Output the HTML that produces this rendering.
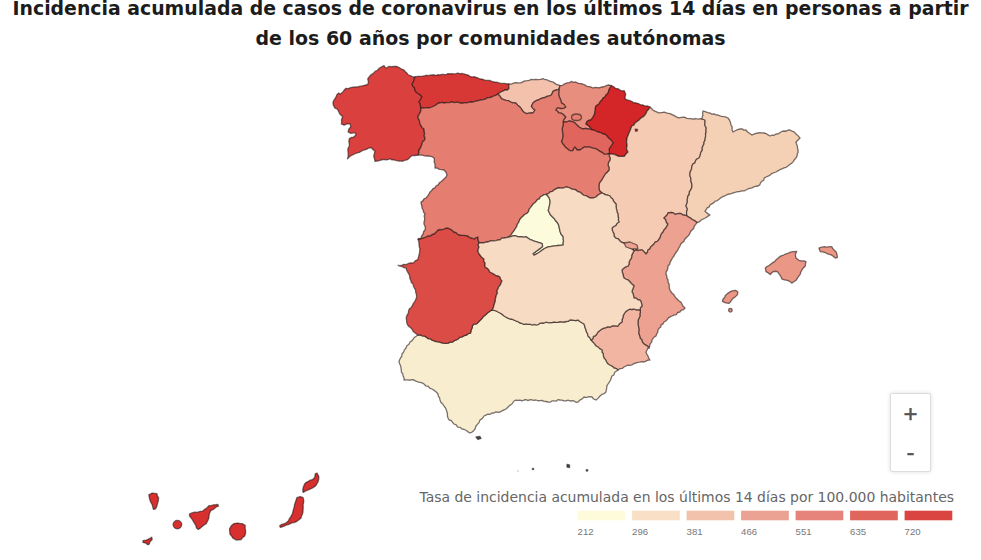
<!DOCTYPE html>
<html><head><meta charset="utf-8">
<style>
html,body{margin:0;padding:0;background:#fff;width:981px;height:560px;overflow:hidden}
svg{position:absolute;left:0;top:0}
.t{font-family:"DejaVu Sans",sans-serif;font-weight:bold;font-size:19px;fill:#1c1c1c}
.leg{font-family:"DejaVu Sans",sans-serif;font-size:14px;fill:#666}
.lab{font-family:"Liberation Sans",Arial,sans-serif;font-size:9.6px;fill:#777}
.zc{position:absolute;left:890px;top:393px;width:39px;height:77px;border:1px solid #ddd;border-radius:2px;background:#fff;box-shadow:0 0 4px rgba(0,0,0,0.13)}
.zc span{position:absolute;left:0;width:100%;text-align:center;font-family:"Liberation Sans",Arial,sans-serif;color:#555}
</style></head><body>
<svg width="981" height="560" viewBox="0 0 981 560">
<text class="t" x="12.5" y="15" textLength="956" lengthAdjust="spacingAndGlyphs" id="t1">Incidencia acumulada de casos de coronavirus en los últimos 14 días en personas a partir</text>
<text class="t" x="255.5" y="44.6" textLength="470" lengthAdjust="spacingAndGlyphs" id="t2">de los 60 años por comunidades autónomas</text>
<g stroke="rgba(35,22,20,0.6)" stroke-width="1.3" stroke-linejoin="round">
<path fill="#d9403e" d="M415,77 L414.21,79.42 L413.42,81.85 L412,84 L412.82,86.09 L414.5,87.75 L414.96,90.02 L416,92 L418.11,93.53 L420.37,94.89 L422,97 L420.49,99.5 L419,102 L420.24,103.81 L420.42,105.97 L421,108 L420.94,110.16 L420.31,112.15 L419.29,114.03 L418.19,115.88 L418,118 L419.13,119.85 L419.67,121.89 L420,124 L421.2,125.77 L422.21,127.7 L424,129 L424.15,131.26 L424.63,133.49 L424.13,135.82 L425,138 L424.53,140.26 L422.58,141.79 L422,144 L421.24,146.12 L420.41,148.21 L419,150 L418.99,152.6 L418,155 L415.27,155.5 L412.5,155.5 L410.36,156.81 L408.75,158.75 L406.82,159.97 L404.54,160.32 L402.5,161.25 L400.44,160.85 L398.32,160.98 L396.25,160.6 L394.18,159.92 L391.92,159.91 L390,158.75 L387.89,159.63 L385.68,159.75 L383.4,159.46 L381.25,160 L379.19,160.51 L377.13,161.07 L375,161.25 L374.48,158.72 L373.75,156.25 L374.32,153.74 L375,151.25 L372.94,149.56 L371.25,147.5 L368.61,148.09 L366.25,149.4 L363.66,150.08 L361.25,151.25 L359.29,152.39 L357.05,152.83 L355,153.75 L352.49,154.97 L350,156.25 L347.5,158.75 L348.19,156.71 L348.2,154.61 L348.1,152.5 L347.82,150.25 L348.1,148 L349.34,146.19 L349.4,144 L348.8,141.3 L349.4,138.6 L351.3,137.48 L353.5,137.3 L356.2,134.6 L354.8,132.6 L352.82,133.05 L350.8,133.3 L348.1,131.9 L348.8,129.2 L350.8,126.6 L350.1,123.9 L346.8,123.9 L344.1,125.2 L341.4,123.9 L341.73,121.9 L341.4,119.9 L342.7,116.5 L340.1,114.5 L338.7,111.8 L337.4,109.1 L334.7,107.8 L333.4,105.1 L332.95,103.1 L333.4,101.1 L334.69,99.09 L336,97.1 L336.85,94.72 L338.7,93 L340,94.3 L341.58,93 L343.1,91.64 L344.34,90.02 L345.7,88.5 L348.23,88.58 L350.6,87.7 L353.42,87.06 L356.3,86.9 L358.4,86.75 L360.42,86.22 L362.47,85.8 L364.5,85.3 L367.7,84.5 L368.5,82 L367.7,78.8 L369.31,76.71 L371,74.7 L373.33,73.39 L375.1,71.4 L377.51,70.26 L379.2,68.2 L381.58,66.92 L384,65.7 L385.7,68.2 L388.9,66.5 L391.35,66.71 L393.8,66.5 L396.34,66.34 L398.7,67.3 L401.03,68.78 L403.6,69.8 L405.12,71.54 L406.9,73 L408.11,74.76 L410.1,75.5 L412.43,76.65 L415,77Z"/>
<path fill="#d83835" d="M415,77 L417.22,76.47 L419.48,76.35 L421.77,76.47 L424,76 L425.96,75.26 L428,75.7 L429.97,75.19 L431.97,75 L433.96,74.8 L436.02,75.6 L437.97,74.64 L440,75 L441.96,74.45 L443.98,74.41 L446.05,74.81 L447.94,73.57 L449.99,73.82 L452.01,73.73 L454.06,73.94 L456.05,73.63 L458,73 L459.92,73.8 L462.05,73.38 L464,74 L466.03,74.52 L468.05,75.07 L469.85,76.35 L471.82,77.07 L474.14,76.69 L476.13,77.35 L478.1,78.04 L480,79 L482.07,79.09 L484,79.84 L485.98,80.4 L488.06,80.41 L490.14,80.51 L492.02,81.47 L494,82 L496.17,82.12 L498.27,82.66 L500.35,83.44 L502.54,83.39 L504.71,83.45 L506.84,83.87 L509,84 L508.77,86.3 L509,88.6 L507.42,90.02 L505.1,89.93 L503.34,90.97 L501.45,91.76 L499.66,92.75 L498,94 L496.06,95.13 L494,96 L492.04,96.7 L490.14,97.64 L487.95,97.55 L486.16,98.83 L484.15,99.4 L482.1,99.79 L480,100 L478.09,100.83 L476.04,101 L474.11,101.77 L472.13,102.24 L470,102 L468.05,102.65 L466.05,102.92 L464.02,102.78 L462.06,103.41 L460,103 L458.06,102.27 L456.02,102.35 L453.94,102.7 L452,102 L450.03,102.49 L448.02,102.53 L446.01,102.68 L444.04,103.16 L441.96,102.38 L440,103 L437.71,103.43 L436.02,105.04 L434.01,106.02 L432,107 L429.85,107.74 L427.65,107.92 L425.42,107.8 L423.23,108.1 L421,108 L420.42,105.97 L420.24,103.81 L419,102 L420.49,99.5 L422,97 L420.37,94.89 L418.11,93.53 L416,92 L414.96,90.02 L414.5,87.75 L412.82,86.09 L412,84 L413.42,81.85 L414.21,79.42 L415,77Z"/>
<path fill="#f3c1ac" d="M509,84 L511.45,84.15 L513.75,83.01 L516.13,82.56 L518.6,82.9 L520.85,82.92 L522.81,81.84 L524.78,80.81 L527,80.7 L529.18,80.41 L531.25,79.39 L533.53,79.69 L535.7,79.3 L538.16,79.69 L540.55,79.3 L542.9,78.6 L544.71,79.54 L546.81,79.71 L548.6,80.7 L550.56,81.27 L552.56,81.76 L554.3,82.9 L556.04,84.15 L558.08,84.8 L560,85.7 L559,89 L557,90 L554.88,90.36 L553,91.4 L551.4,95 L549.27,95.91 L547,96.4 L545.13,97.49 L543,97.9 L540.63,98.58 L538.6,100 L536.44,100.44 L534.65,101.6 L533,103 L531.4,106.4 L532.92,108.48 L535,110 L533,113 L530.96,112.79 L528.97,113.09 L527,113.6 L524.83,112.81 L523,111.4 L521.52,109.19 L520,107 L517.72,105.14 L515.7,103 L513.14,102.82 L510.78,102.05 L508.6,100.7 L506.12,100.28 L503.71,99.6 L501.4,98.6 L499.9,96.15 L498,94 L499.66,92.75 L501.45,91.76 L503.34,90.97 L505.1,89.93 L507.42,90.02 L509,88.6 L508.77,86.3 L509,84Z"/>
<path fill="#e88e7f" d="M560,85.7 L562.55,85.32 L564.64,83.77 L567,82.9 L569.38,82.69 L571.4,81.4 L573.46,82.33 L575.7,82 L578.39,83.37 L581.4,83.6 L583.35,84.38 L585.3,85.14 L587,86.4 L589.09,86.59 L591.1,87.09 L593,88 L595.05,87.37 L597.22,87.66 L599.36,87.77 L601.4,87 L603.92,86.76 L606.19,85.64 L608.6,85 L611.4,85.7 L610.29,87.51 L609.18,89.33 L608.6,91.4 L607.85,93.56 L606.02,95.02 L605,97 L603.12,98.12 L602,100 L600.21,101.78 L599,104 L596,106 L595.35,107.95 L595.36,110 L595,112 L594.39,114.66 L593,117 L591,120 L588.87,120.4 L587,121.5 L586,124 L589,126 L590.67,127.87 L592,130 L590.09,129.12 L588,129 L585.5,128.39 L583,129 L580.94,128.12 L579,127 L576.91,125.09 L575,123 L573.18,121.78 L571.09,121.39 L569,121 L567.07,121.76 L565.08,122.14 L563,122 L563.95,119.28 L565.7,117 L562.9,114.3 L560.91,113.1 L558.6,112.9 L557.43,111.17 L555.7,110 L557.1,107.9 L559.32,107.8 L561.4,108.6 L563.7,108.2 L565.7,107 L563.98,104.5 L561.4,102.9 L560.89,100.69 L560,98.6 L559.12,96.51 L558.6,94.3 L558.86,91.65 L559,89 L560,85.7Z"/>
<path fill="#d42528" d="M611.4,85.7 L613.82,86.75 L615.7,88.6 L618.05,88.7 L620,90 L622.05,90.95 L624.3,90.7 L625.7,94.3 L625.16,96.42 L625,98.6 L627,100 L630,100.7 L631.99,101.5 L633.8,102.76 L636,103 L638.36,103.58 L640.53,104.8 L643,105 L645.22,106.07 L647.77,105.97 L650,107 L648.76,109.19 L647,111 L646.24,113.12 L645,115 L643.54,116.6 L641.6,117.58 L640,119 L638.53,120.58 L636.73,121.75 L635,123 L634.04,124.97 L631.92,126 L631,128 L630.18,130.57 L629,133 L628.05,135.52 L627,138 L626.89,140 L626.47,142 L627,144 L627.1,146 L626.46,148 L627,150 L628,152 L625.7,154.3 L624.3,156.4 L621.45,156.4 L618.6,156.4 L616.47,155.31 L614.3,154.3 L611.65,154.12 L609,154 L609.43,151.5 L609,149 L611,146 L613,143 L611,140 L608.72,138.28 L607,136 L605.29,134.42 L603,134 L600.65,132.62 L598,132 L596.02,131.26 L594.2,130.07 L592,130 L590.67,127.87 L589,126 L586,124 L587,121.5 L588.87,120.4 L591,120 L593,117 L594.39,114.66 L595,112 L595.36,110 L595.35,107.95 L596,106 L599,104 L600.21,101.78 L602,100 L603.12,98.12 L605,97 L606.02,95.02 L607.85,93.56 L608.6,91.4 L609.18,89.33 L610.29,87.51 L611.4,85.7Z"/>
<path fill="#e0655c" d="M563,122 L565.08,122.14 L567.07,121.76 L569,121 L571.09,121.39 L573.18,121.78 L575,123 L576.91,125.09 L579,127 L580.94,128.12 L583,129 L585.5,128.39 L588,129 L590.09,129.12 L592,130 L594.2,130.07 L596.02,131.26 L598,132 L600.65,132.62 L603,134 L605.29,134.42 L607,136 L608.72,138.28 L611,140 L613,143 L611,146 L609,149 L609.43,151.5 L609,154 L606.65,154.18 L604.3,154.3 L602.31,152.61 L600,151.4 L597.89,149.94 L595.7,148.6 L592.79,148.07 L590,147.1 L587.15,147.08 L584.3,147.1 L582.11,148.49 L580,150 L577.1,150 L575,147.1 L573.63,148.71 L572.9,150.7 L570.67,150.86 L568.6,150 L567.22,148.51 L565.5,147.36 L564.3,145.7 L562.61,143.71 L561.4,141.4 L562.49,138.64 L562.9,135.7 L562.64,133.33 L562.45,130.96 L562.1,128.6 L562.73,126.45 L563.23,124.27 L563,122Z"/>
<path fill="#f5cbb3" d="M650,107 L651.5,108.45 L652.9,110 L654.73,111.1 L656.7,111.94 L658.6,112.9 L661.45,112.52 L664.3,112.1 L667.09,113.09 L670,113.6 L672.18,114.59 L674.3,115.7 L676.43,116.84 L678.6,117.9 L681.45,117.47 L684.3,117.1 L687,118.41 L690,118.6 L692,118.83 L694.01,119.02 L696,118.5 L697.95,119.24 L700.03,118.52 L702,119 L705,120 L705.12,122.01 L704.83,124.06 L705.16,126.04 L706.27,127.95 L706,130 L706.2,132.07 L705.5,134.01 L705.69,136.08 L705.19,138.05 L705.12,140.08 L704.07,141.97 L704,144 L702.98,145.88 L702.18,147.84 L702.43,150.14 L701.07,151.91 L700.47,153.93 L700,156 L699.03,157.96 L696.94,159.02 L695.53,160.62 L694.95,162.89 L692.87,163.97 L692,166 L691.73,168.03 L691.22,170 L690.18,171.88 L689.98,173.92 L690,176 L690.83,177.91 L690.89,179.98 L691.18,182 L691.81,183.96 L692,186 L691.57,188.15 L690.62,190.09 L689.33,191.89 L689.38,194.23 L688,196 L687.53,197.99 L687.28,200.02 L687.41,202.12 L686.61,204.04 L686,206 L687.5,209 L686.84,210.96 L686.5,213 L687,216 L685.09,215.24 L682.96,215.03 L681.25,213.75 L679.1,213.34 L677.04,213.81 L675,214.4 L673.4,212.9 L671.25,212.5 L668,213 L667.07,214.99 L665.57,216.52 L664,218 L665.83,219.67 L666.36,222.2 L668,224 L666.91,226.17 L665.73,228.27 L664,230 L663.09,232.05 L661.52,233.76 L660.63,235.81 L660,238 L658.72,239.72 L657.32,241.32 L655.11,242.11 L654,244 L652.44,245.44 L650.82,246.82 L649.88,248.88 L648,250 L647.51,252.26 L646,254 L644.17,251.83 L642,250 L640,250.1 L638,250.56 L636,250 L634,251 L632.34,249.04 L630,248 L628.11,246.2 L626.25,244.37 L624,243 L621.76,242.48 L620,241 L618.3,238.98 L615.64,238.1 L614,236 L613.96,233.89 L612.94,232.01 L612.3,230.05 L612,228 L613.79,226.55 L615.86,225.42 L617.05,223.27 L619,222 L618.27,220.06 L618.53,218 L617.91,216.04 L618,214 L617.1,212.1 L616.77,210.09 L616.23,208.11 L616.02,206.08 L616,204 L614.6,202.55 L613.4,200.95 L612.67,199 L610.98,197.76 L610,196 L608,195.25 L605.85,194.89 L603.93,193.94 L602,193 L600,191.38 L599,189 L599.01,186.62 L599.04,184.24 L600,182 L601.59,180.17 L602.72,178.04 L604,176 L605.36,173.74 L607.31,171.98 L609,170 L609.05,167.39 L608,165 L608.52,162.31 L610,160 L610.08,157.93 L609.25,156.01 L609,154 L611.65,154.12 L614.3,154.3 L616.47,155.31 L618.6,156.4 L621.45,156.4 L624.3,156.4 L625.7,154.3 L628,152 L627,150 L626.46,148 L627.1,146 L627,144 L626.47,142 L626.89,140 L627,138 L628.05,135.52 L629,133 L630.18,130.57 L631,128 L631.92,126 L634.04,124.97 L635,123 L636.73,121.75 L638.53,120.58 L640,119 L641.6,117.58 L643.54,116.6 L645,115 L646.24,113.12 L647,111 L648.76,109.19 L650,107Z"/>
<path fill="#f4d0b5" d="M702,119 L702.24,117 L702.93,115.05 L702.61,112.98 L703,111 L705.33,111.68 L707.6,112.57 L710,113 L711.85,114.11 L714.05,113.8 L715.9,114.92 L718,115 L719.92,115.86 L721.95,116.37 L724.04,116.68 L726.06,117.21 L728,118 L729.53,120.11 L730.44,122.48 L731,125 L732.2,127.18 L732.03,129.75 L733,132 L735.21,130.71 L737.49,129.6 L740,129 L742.09,128.8 L743.93,130.1 L746,130 L747.69,132.04 L749.86,133.5 L752,135 L753.91,134.06 L755.89,133.35 L758,133 L760,132.73 L762,132.95 L764,133 L766.2,133.6 L768.03,134.94 L770,136 L771.9,135.04 L774.19,135.24 L776,134 L778.22,133.83 L780.02,132.56 L781.88,131.44 L784,131 L786.1,131.26 L787.96,130.09 L790,130 L792.1,131.18 L794.36,132.13 L796,134 L798.11,135.89 L800,138 L798.02,140.02 L796,142 L796.5,144 L797.38,145.91 L797.49,148 L798,150 L798.12,152.16 L797.3,154.07 L797.02,156.13 L796,158 L794.49,159.69 L793.22,161.62 L791.64,163.24 L789.78,164.58 L788,166 L786.16,167.31 L783.95,167.9 L781.98,168.97 L779.85,169.71 L777.91,170.82 L776,172 L773.87,172.75 L771.78,173.56 L770.06,175.13 L768.1,176.2 L766,177 L764.2,178.08 L763.67,180.3 L761.78,181.31 L760.53,182.88 L759.78,184.89 L758,186 L755.86,186.25 L753.84,186.85 L751.95,187.84 L749.9,188.38 L747.87,188.95 L746,190 L744.11,190.95 L741.99,190.97 L740,191.49 L737.89,191.58 L735.9,192.12 L733.9,192.59 L731.97,193.39 L730,194 L727.62,194.4 L725.54,195.53 L723.34,196.39 L721.25,197.5 L719.35,199.05 L717.4,200.52 L715,201.25 L713.62,202.88 L711.78,203.89 L710,205 L709.15,206.88 L707.16,207.85 L706.19,209.64 L705,211.25 L706.57,212.63 L708.23,213.88 L710,215 L707.99,216.05 L706.25,217.5 L703.76,218.76 L701.25,220 L699.45,221.81 L697,222.5 L694.7,220.67 L692,219.5 L690.52,218.07 L688.67,217.16 L687,216 L686.5,213 L686.84,210.96 L687.5,209 L686,206 L686.61,204.04 L687.41,202.12 L687.28,200.02 L687.53,197.99 L688,196 L689.38,194.23 L689.33,191.89 L690.62,190.09 L691.57,188.15 L692,186 L691.81,183.96 L691.18,182 L690.89,179.98 L690.83,177.91 L690,176 L689.98,173.92 L690.18,171.88 L691.22,170 L691.73,168.03 L692,166 L692.87,163.97 L694.95,162.89 L695.53,160.62 L696.94,159.02 L699.03,157.96 L700,156 L700.47,153.93 L701.07,151.91 L702.43,150.14 L702.18,147.84 L702.98,145.88 L704,144 L704.07,141.97 L705.12,140.08 L705.19,138.05 L705.69,136.08 L705.5,134.01 L706.2,132.07 L706,130 L706.27,127.95 L705.16,126.04 L704.83,124.06 L705.12,122.01 L705,120 L702,119Z"/>
<path fill="#eda291" d="M697,222.5 L695.71,224.35 L694.33,226.14 L693.72,228.44 L692,230 L690.55,231.42 L689.86,233.39 L688.84,235.13 L687.44,236.58 L686,238 L684.56,239.42 L683.91,241.43 L682.15,242.61 L680.71,244.03 L680,246 L678.81,248 L677.73,250.08 L676.42,252.01 L675,253.88 L674,256 L672.5,257.82 L671.47,259.92 L670.24,261.9 L669.67,264.28 L668,266 L667.94,268.11 L667.31,270.08 L666.19,271.92 L666,274 L666.75,275.94 L666.91,278.02 L668.11,279.85 L668,282 L669.05,283.86 L669.29,285.93 L669.28,288.05 L670,290 L671,291.75 L672.22,293.34 L673.82,294.64 L674.78,296.41 L676,298 L677.53,299.47 L679.03,300.97 L680.85,302.15 L682,304 L683.09,306.31 L685,308 L683.58,309.64 L681.28,310.18 L680,312 L677.75,312.49 L676.28,314.56 L674.02,315.05 L672,316 L670.15,316.87 L668.43,317.91 L667.24,319.65 L665.78,321.04 L664,322 L663.1,323.83 L661.14,324.85 L660.7,327.03 L659.12,328.34 L658,330 L657.78,332.15 L656.64,333.99 L656,336 L653.58,337.58 L652,340 L651.7,342.17 L650.11,343.85 L649.74,346 L649,348 L647.65,346.27 L645.83,345.13 L644,344 L642.38,342.19 L641.76,339.71 L640,338 L639.73,336 L638.89,334.08 L638.61,332.08 L639,330 L638.74,328 L638.44,326.01 L637.99,324.03 L638,322 L638.22,319.85 L639.14,317.94 L640,316 L639.76,314 L640.44,312 L640,310 L640.42,307.71 L642,306 L641.64,303.9 L641.08,301.86 L640,300 L637.84,299.8 L636.18,298.14 L634,298 L633.6,295.91 L633.16,293.83 L632,292 L632.41,289.91 L633.18,287.95 L634,286 L631.9,284.1 L630,282 L628.36,280.13 L626.06,279.24 L624,278 L623.32,276.04 L622.91,274.02 L622.22,272.07 L622,270 L623.67,268.18 L625.71,266.9 L628,266 L629.08,264.14 L629.07,261.91 L630,260 L631.52,257.98 L631.7,255.37 L632.72,253.13 L634,251 L636,250 L638,250.56 L640,250.1 L642,250 L644.17,251.83 L646,254 L647.51,252.26 L648,250 L649.88,248.88 L650.82,246.82 L652.44,245.44 L654,244 L655.11,242.11 L657.32,241.32 L658.72,239.72 L660,238 L660.63,235.81 L661.52,233.76 L663.09,232.05 L664,230 L665.73,228.27 L666.91,226.17 L668,224 L666.36,222.2 L665.83,219.67 L664,218 L665.57,216.52 L667.07,214.99 L668,213 L671.25,212.5 L673.4,212.9 L675,214.4 L677.04,213.81 L679.1,213.34 L681.25,213.75 L682.96,215.03 L685.09,215.24 L687,216 L688.67,217.16 L690.52,218.07 L692,219.5 L694.7,220.67 L697,222.5Z"/>
<path fill="#f1b5a2" d="M640,310 L638,309.65 L635.93,309.73 L634,309 L632.03,309.5 L629.9,309.08 L628,310 L625.65,311.65 L624,314 L623.11,315.9 L622.83,317.96 L621.98,319.87 L622,322 L619.59,323.59 L618,326 L616,325.94 L614,325.71 L612,326 L610.14,327.07 L607.93,326.71 L606.02,327.56 L604,328 L601.82,329.06 L599.9,330.51 L598,332 L596.81,333.78 L595.64,335.59 L593.38,336.43 L592.76,338.72 L591,340 L592.69,341.98 L594.49,343.87 L596,346 L598.15,347.11 L599.83,348.93 L602,350 L601.9,352.15 L603.3,353.92 L603.3,356.05 L604,358 L605.55,359.86 L606.6,362.04 L608,364 L610.08,365.22 L612.24,366.31 L614,368 L616.2,368.61 L618,370 L619.83,368.66 L622.24,368.47 L624,367 L626,366 L627.9,365.05 L630.15,365.31 L632.19,364.82 L633.98,363.54 L636,363 L637.94,362.29 L639.95,362.1 L641.93,361.72 L644,362 L645.94,361.14 L647.83,360.16 L650,360 L648.7,358.15 L648,356 L646.72,354.14 L646,352 L647.08,350.04 L648,348 L649,348 L647.65,346.27 L645.83,345.13 L644,344 L642.38,342.19 L641.76,339.71 L640,338 L639.73,336 L638.89,334.08 L638.61,332.08 L639,330 L638.74,328 L638.44,326.01 L637.99,324.03 L638,322 L638.22,319.85 L639.14,317.94 L640,316 L639.76,314 L640.44,312 L640,310Z"/>
<path fill="#f9edd0" d="M492,310 L494.1,310.48 L496.2,310.96 L498.08,312.03 L500,313 L502.01,314.18 L503.77,315.79 L505.74,317.04 L507.83,318.08 L510,319 L512.23,319.23 L514.17,320.17 L516.16,321.01 L518.21,321.68 L520,323 L521.98,323.47 L523.89,324.31 L526.02,323.89 L527.99,324.37 L530.08,324.16 L532,325 L533.96,324.4 L536.1,324.93 L538.1,324.61 L539.92,323.19 L541.93,322.89 L544,323 L545.94,322.21 L548.01,322.67 L550.01,322.53 L552.03,322.53 L554,322 L556,322.3 L558,322.37 L560,321.53 L562,321.83 L564,322 L566,321.5 L568.12,321.47 L569.85,319.91 L572,320 L574,320.29 L576,320.57 L578,320 L579.88,321.51 L581.91,322.8 L584,324 L584.7,325.99 L585.23,328.04 L586,330 L586.56,332.04 L587.64,333.9 L588,336 L589.9,337.7 L591,340 L592.69,341.98 L594.49,343.87 L596,346 L598.15,347.11 L599.83,348.93 L602,350 L601.9,352.15 L603.3,353.92 L603.3,356.05 L604,358 L605.55,359.86 L606.6,362.04 L608,364 L610.08,365.22 L612.24,366.31 L614,368 L616.2,368.61 L618,370 L616.26,371.26 L614.56,372.56 L613.91,374.91 L612,376 L611.16,378.08 L610.48,380.24 L609.3,382.15 L608,384 L606.87,385.84 L606.72,387.93 L606.27,389.94 L606,392 L604.16,393.57 L601.83,394.41 L600,396 L598.11,398.11 L596,400 L593.64,398.98 L592,397 L590,396.7 L588,396.79 L586,397.52 L584,397 L582.21,398.91 L579.8,400.09 L578,402 L575.93,402.29 L574.07,400.94 L572.08,400.65 L570,401 L568.06,400.21 L565.97,400.94 L563.96,400.8 L562.01,400.08 L560,400 L557.9,399.73 L556.08,401.18 L553.97,400.83 L551.93,400.94 L550.09,402.2 L548,402 L546.03,401.5 L544.01,401.3 L542.1,400.42 L540.01,400.58 L537.93,400.75 L536,400 L534,400.42 L532,399.81 L530,399.62 L528,400.6 L526,399.51 L524,400 L522.06,400.79 L519.98,400.21 L517.97,400.32 L515.94,400.16 L514,401 L512,404 L509.72,405.34 L507.86,407.17 L506,409 L503.93,409.85 L501.93,410.86 L500,412 L498.03,412.46 L495.92,411.9 L494.04,413.07 L492,413 L490.2,414.28 L487.86,414.12 L485.92,415.04 L484,416 L482.4,418.4 L480,420 L479.2,422.36 L477.59,424.17 L476,426 L475,429 L473.64,430.72 L471.99,432.07 L470,433 L468.06,431.88 L466.26,430.49 L464.26,429.48 L462,429 L460.25,427.36 L457.67,427.02 L456.2,424.93 L454,424 L452.6,422.4 L451.33,420.67 L449.09,419.91 L448,418 L447.45,416.04 L447.44,413.98 L447,412 L446.32,409.84 L445.36,407.82 L444,406 L442.67,404 L440.84,402.33 L440,400 L439.59,397.92 L438.35,396.11 L438,394 L436.23,392.06 L434.22,390.4 L432,389 L429.78,388.1 L428.13,386.29 L425.68,385.77 L424,384 L422.14,382.84 L420,382.41 L417.88,381.89 L415.86,381.16 L414,380 L412,379.61 L410,380.24 L408,379.9 L406,379.79 L404,380 L404.09,377.85 L403,376 L402.84,373.91 L401.46,372.13 L401.29,370.05 L401,368 L400.63,365.9 L399.77,363.97 L399,362 L399.54,359.92 L400.5,358 L401.83,356.22 L402,354 L403.54,352.14 L404.45,349.85 L406,348 L406.84,345.67 L408.94,344.18 L410,342 L411.79,340.86 L413.14,339.22 L414.35,337.43 L416.11,336.26 L417.8,335 L420.23,334.81 L422.46,335.85 L424.8,336.2 L426.55,337.35 L428.24,338.61 L430.44,338.84 L432.08,340.2 L434.1,340.8 L436.39,341.54 L438.78,341.9 L441.08,342.57 L443.4,343.2 L445.77,343.45 L448.07,343.1 L450.27,342.04 L452.6,342 L454.25,340.7 L456.28,339.97 L458.12,338.95 L459.6,337.4 L462.02,336.84 L464.21,335.62 L466.6,335 L468.32,333.6 L470.5,333.2 L471.2,330 L472.18,327.85 L472.5,325.5 L474.22,324.11 L476.59,323.89 L478.2,322.3 L479.88,320.5 L481.69,318.84 L483.13,316.81 L485.1,315.3 L487.17,313.26 L489.5,311.5 L492,310Z"/>
<path fill="#dc4c46" d="M417.8,335 L415.48,333.33 L413.2,331.6 L412.21,329.47 L410.75,327.72 L408.74,326.44 L407.4,324.6 L406.68,322.32 L406.51,319.95 L406.2,317.6 L406.99,315.3 L408.33,313.18 L408.6,310.7 L409.41,308.72 L411.23,307.42 L412.31,305.62 L413.2,303.7 L414.74,301.59 L415.85,299.26 L416.7,296.8 L416.44,294.44 L415.68,292.17 L415.5,289.8 L414.37,288.04 L413.5,286.16 L413.07,284.06 L411.33,282.6 L410.9,280.5 L409.76,278.32 L409.68,275.8 L408.6,273.6 L407.5,271.79 L406.48,269.95 L406.2,267.8 L404,267.78 L402.17,266.53 L400.06,266.22 L398.1,265.4 L400.18,265.65 L402.12,265.16 L404,264.3 L406.38,264.63 L408.56,263.4 L410.83,262.86 L413.2,263.1 L415.18,260.93 L417.8,259.6 L418.4,257.3 L419,255 L419.6,253.04 L419.6,250.99 L420,249 L419.26,247.07 L419.09,245.02 L418.95,242.97 L418.62,240.96 L418,239 L420.08,238.81 L422.11,238.44 L424.05,237.71 L426,237 L427.83,235.79 L430.16,235.91 L431.91,234.5 L434,234 L436.06,232.06 L438,230 L439.97,229.5 L442.05,229.64 L444,229 L445.91,228.12 L448,228 L450.18,229.06 L452.18,230.39 L454,232 L456.2,232.6 L457.78,234.45 L460,235 L461.99,235.35 L464.03,235.28 L466.02,235.62 L468,236 L469.71,237.57 L472,238.01 L474,239 L475.84,237.69 L478,237 L477.94,239.07 L478.47,241.03 L479,243 L478.12,244.92 L479.01,247.06 L478.28,249 L478,251 L478.63,253.19 L480,255 L481.69,257.31 L484,259 L483.72,261.07 L485.09,262.93 L485.02,264.97 L485,267 L487.07,268.12 L488.76,269.69 L489.85,271.97 L492,273 L493.95,274.1 L495.75,275.5 L498.07,275.85 L500,277 L500.57,279.21 L502,281 L501.06,283.03 L500.28,285.14 L498.68,286.84 L498,289 L496.94,290.86 L497.5,293.12 L496.38,294.97 L496,297 L495.35,298.96 L495.36,301.09 L494.67,303.04 L494,305 L493.43,307.67 L492,310 L489.5,311.5 L487.17,313.26 L485.1,315.3 L483.13,316.81 L481.69,318.84 L479.88,320.5 L478.2,322.3 L476.59,323.89 L474.22,324.11 L472.5,325.5 L472.18,327.85 L471.2,330 L470.5,333.2 L468.32,333.6 L466.6,335 L464.21,335.62 L462.02,336.84 L459.6,337.4 L458.12,338.95 L456.28,339.97 L454.25,340.7 L452.6,342 L450.27,342.04 L448.07,343.1 L445.77,343.45 L443.4,343.2 L441.08,342.57 L438.78,341.9 L436.39,341.54 L434.1,340.8 L432.08,340.2 L430.44,338.84 L428.24,338.61 L426.55,337.35 L424.8,336.2 L422.46,335.85 L420.23,334.81 L417.8,335Z"/>
<path fill="#e57d70" d="M418,155 L418.99,152.6 L419,150 L420.41,148.21 L421.24,146.12 L422,144 L422.58,141.79 L424.53,140.26 L425,138 L424.13,135.82 L424.63,133.49 L424.15,131.26 L424,129 L422.21,127.7 L421.2,125.77 L420,124 L419.67,121.89 L419.13,119.85 L418,118 L418.19,115.88 L419.29,114.03 L420.31,112.15 L420.94,110.16 L421,108 L423.23,108.1 L425.42,107.8 L427.65,107.92 L429.85,107.74 L432,107 L434.01,106.02 L436.02,105.04 L437.71,103.43 L440,103 L441.96,102.38 L444.04,103.16 L446.01,102.68 L448.02,102.53 L450.03,102.49 L452,102 L453.94,102.7 L456.02,102.35 L458.06,102.27 L460,103 L462.06,103.41 L464.02,102.78 L466.05,102.92 L468.05,102.65 L470,102 L472.13,102.24 L474.11,101.77 L476.04,101 L478.09,100.83 L480,100 L482.1,99.79 L484.15,99.4 L486.16,98.83 L487.95,97.55 L490.14,97.64 L492.04,96.7 L494,96 L496.06,95.13 L498,94 L499.9,96.15 L501.4,98.6 L503.71,99.6 L506.12,100.28 L508.6,100.7 L510.78,102.05 L513.14,102.82 L515.7,103 L517.72,105.14 L520,107 L521.52,109.19 L523,111.4 L524.83,112.81 L527,113.6 L528.97,113.09 L530.96,112.79 L533,113 L535,110 L532.92,108.48 L531.4,106.4 L533,103 L534.65,101.6 L536.44,100.44 L538.6,100 L540.63,98.58 L543,97.9 L545.13,97.49 L547,96.4 L549.27,95.91 L551.4,95 L553,91.4 L554.88,90.36 L557,90 L559,89 L558.86,91.65 L558.6,94.3 L559.12,96.51 L560,98.6 L560.89,100.69 L561.4,102.9 L563.98,104.5 L565.7,107 L563.7,108.2 L561.4,108.6 L559.32,107.8 L557.1,107.9 L555.7,110 L557.43,111.17 L558.6,112.9 L560.91,113.1 L562.9,114.3 L565.7,117 L563.95,119.28 L563,122 L563.23,124.27 L562.73,126.45 L562.1,128.6 L562.45,130.96 L562.64,133.33 L562.9,135.7 L562.49,138.64 L561.4,141.4 L562.61,143.71 L564.3,145.7 L565.5,147.36 L567.22,148.51 L568.6,150 L570.67,150.86 L572.9,150.7 L573.63,148.71 L575,147.1 L577.1,150 L580,150 L582.11,148.49 L584.3,147.1 L587.15,147.08 L590,147.1 L592.79,148.07 L595.7,148.6 L597.89,149.94 L600,151.4 L602.31,152.61 L604.3,154.3 L606.65,154.18 L609,154 L609.25,156.01 L610.08,157.93 L610,160 L608.52,162.31 L608,165 L609.05,167.39 L609,170 L607.31,171.98 L605.36,173.74 L604,176 L602.72,178.04 L601.59,180.17 L600,182 L599.04,184.24 L599.01,186.62 L599,189 L600,191.38 L602,193 L599.8,194.03 L597.77,195.32 L596,197 L594.07,197.76 L592.07,198.11 L590,198 L588.06,196.89 L586.16,195.68 L583.83,195.33 L582,194 L580.24,192.3 L577.77,191.68 L576,190 L573.95,189.48 L571.83,189.17 L570,188 L567.98,187.36 L565.9,187 L563.04,188.05 L560,188 L557.92,187.88 L556.1,188.9 L554.12,189.88 L552.45,191.45 L550.2,191.9 L548.55,193.59 L546.3,194.3 L544.13,194.6 L542.3,195.8 L540.42,196.79 L539.41,198.87 L537.4,199.7 L535.73,201.98 L533.5,203.7 L531.99,205.64 L530.5,207.6 L529.09,209.33 L528.6,211.5 L526.93,213.44 L524.6,214.5 L522.67,216.47 L520.7,218.4 L519.5,220.23 L518.8,222.3 L517.39,224.09 L516.8,226.3 L515.3,228.75 L513.8,231.2 L512.22,233.05 L510.9,235.1 L509,237 L506.53,237.66 L504,238 L501.83,238.16 L500.17,239.84 L498,240 L496.04,240.58 L494.01,240.87 L491.88,240.58 L489.91,241.17 L488,242 L485.74,242.2 L483.55,242.99 L481.24,242.63 L479,243 L478.47,241.03 L477.94,239.07 L478,237 L475.84,237.69 L474,239 L472,238.01 L469.71,237.57 L468,236 L466.02,235.62 L464.03,235.28 L461.99,235.35 L460,235 L457.78,234.45 L456.2,232.6 L454,232 L452.18,230.39 L450.18,229.06 L448,228 L445.91,228.12 L444,229 L442.05,229.64 L439.97,229.5 L438,230 L436.06,232.06 L434,234 L431.91,234.5 L430.16,235.91 L427.83,235.79 L426,237 L424.05,237.71 L422.11,238.44 L420.08,238.81 L418,239 L421,238 L421.63,235.81 L423.09,234.04 L423.53,231.77 L425,230 L425.39,227.92 L424.88,225.95 L423.96,224.04 L424,222 L424.64,220.05 L424.68,218.02 L424.11,215.92 L425,214 L423.58,212.21 L423.1,209.95 L422,208 L421.85,205.97 L421.25,204.01 L421,202 L422.82,200.86 L423.97,198.87 L426,198 L427.54,196.14 L428.9,194.16 L430,192 L431.58,190.58 L432.82,188.82 L434.81,187.81 L436,186 L438.1,184.9 L439.38,182.86 L441.21,181.45 L443,180 L444.44,178.42 L446.07,176.99 L447,175 L445.99,172.21 L444,170 L441.74,169.56 L439.42,169.37 L437.33,168.12 L435,168 L435.04,165.98 L435.01,163.96 L434.17,162.02 L434.42,159.98 L434,158 L432.2,156.73 L430.12,156.3 L428,156 L425.98,156 L423.99,155.73 L422.03,155.08 L420.04,154.82 L418,155Z"/>
<path fill="#fcfcdc" d="M509,237 L510.9,235.1 L512.22,233.05 L513.8,231.2 L515.3,228.75 L516.8,226.3 L517.39,224.09 L518.8,222.3 L519.5,220.23 L520.7,218.4 L522.67,216.47 L524.6,214.5 L526.93,213.44 L528.6,211.5 L529.09,209.33 L530.5,207.6 L531.99,205.64 L533.5,203.7 L535.73,201.98 L537.4,199.7 L539.41,198.87 L540.42,196.79 L542.3,195.8 L544.13,194.6 L546.3,194.3 L547.79,196.02 L549.2,197.8 L549.69,199.75 L550.2,201.7 L549.76,204.16 L549.2,206.6 L548.88,208.6 L548.2,210.5 L549.31,212.44 L550.2,214.5 L552.07,216.53 L554.1,218.4 L555.44,220.47 L557.1,222.3 L558.26,224.2 L559,226.3 L559.47,228.76 L560,231.2 L561,234 L563.3,236.9 L563.17,238.9 L563.53,240.9 L563.13,242.9 L563.3,244.9 L560.67,245.39 L558,245.5 L555.34,245.8 L552.7,246.2 L550.4,246.53 L548.1,246.9 L544.5,248.5 L542.21,250.1 L540,251.8 L538.08,253.05 L536.09,254.17 L534.1,255.3 L532.9,253.7 L534.79,252.37 L536.61,250.94 L538.5,249.6 L540.6,248.11 L542.6,246.5 L542.1,243.6 L540.09,242.96 L538.09,242.3 L536.1,241.6 L534.06,241.16 L532.19,240.21 L530.2,239.6 L528.2,238.25 L526.2,236.9 L523.57,237.03 L520.93,236.77 L518.3,236.9 L514.9,235.6 L512.9,235.93 L510.97,236.55 L509,237Z"/>
<path fill="#f7dbc3" d="M479,243 L481.24,242.63 L483.55,242.99 L485.74,242.2 L488,242 L489.91,241.17 L491.88,240.58 L494.01,240.87 L496.04,240.58 L498,240 L500.17,239.84 L501.83,238.16 L504,238 L506.53,237.66 L509,237 L510.97,236.55 L512.9,235.93 L514.9,235.6 L518.3,236.9 L520.93,236.77 L523.57,237.03 L526.2,236.9 L528.2,238.25 L530.2,239.6 L532.19,240.21 L534.06,241.16 L536.1,241.6 L538.09,242.3 L540.09,242.96 L542.1,243.6 L542.6,246.5 L540.6,248.11 L538.5,249.6 L536.61,250.94 L534.79,252.37 L532.9,253.7 L534.1,255.3 L536.09,254.17 L538.08,253.05 L540,251.8 L542.21,250.1 L544.5,248.5 L548.1,246.9 L550.4,246.53 L552.7,246.2 L555.34,245.8 L558,245.5 L560.67,245.39 L563.3,244.9 L563.13,242.9 L563.53,240.9 L563.17,238.9 L563.3,236.9 L561,234 L560,231.2 L559.47,228.76 L559,226.3 L558.26,224.2 L557.1,222.3 L555.44,220.47 L554.1,218.4 L552.07,216.53 L550.2,214.5 L549.31,212.44 L548.2,210.5 L548.88,208.6 L549.2,206.6 L549.76,204.16 L550.2,201.7 L549.69,199.75 L549.2,197.8 L547.79,196.02 L546.3,194.3 L548.55,193.59 L550.2,191.9 L552.45,191.45 L554.12,189.88 L556.1,188.9 L557.92,187.88 L560,188 L563.04,188.05 L565.9,187 L567.98,187.36 L570,188 L571.83,189.17 L573.95,189.48 L576,190 L577.77,191.68 L580.24,192.3 L582,194 L583.83,195.33 L586.16,195.68 L588.06,196.89 L590,198 L592.07,198.11 L594.07,197.76 L596,197 L597.77,195.32 L599.8,194.03 L602,193 L603.93,193.94 L605.85,194.89 L608,195.25 L610,196 L610.98,197.76 L612.67,199 L613.4,200.95 L614.6,202.55 L616,204 L616.02,206.08 L616.23,208.11 L616.77,210.09 L617.1,212.1 L618,214 L617.91,216.04 L618.53,218 L618.27,220.06 L619,222 L617.05,223.27 L615.86,225.42 L613.79,226.55 L612,228 L612.3,230.05 L612.94,232.01 L613.96,233.89 L614,236 L615.64,238.1 L618.3,238.98 L620,241 L621.76,242.48 L624,243 L626.25,244.37 L628.11,246.2 L630,248 L632.34,249.04 L634,251 L632.72,253.13 L631.7,255.37 L631.52,257.98 L630,260 L629.07,261.91 L629.08,264.14 L628,266 L625.71,266.9 L623.67,268.18 L622,270 L622.22,272.07 L622.91,274.02 L623.32,276.04 L624,278 L626.06,279.24 L628.36,280.13 L630,282 L631.9,284.1 L634,286 L633.18,287.95 L632.41,289.91 L632,292 L633.16,293.83 L633.6,295.91 L634,298 L636.18,298.14 L637.84,299.8 L640,300 L641.08,301.86 L641.64,303.9 L642,306 L640.42,307.71 L640,310 L638,309.65 L635.93,309.73 L634,309 L632.03,309.5 L629.9,309.08 L628,310 L625.65,311.65 L624,314 L623.11,315.9 L622.83,317.96 L621.98,319.87 L622,322 L619.59,323.59 L618,326 L616,325.94 L614,325.71 L612,326 L610.14,327.07 L607.93,326.71 L606.02,327.56 L604,328 L601.82,329.06 L599.9,330.51 L598,332 L596.81,333.78 L595.64,335.59 L593.38,336.43 L592.76,338.72 L591,340 L589.9,337.7 L588,336 L587.64,333.9 L586.56,332.04 L586,330 L585.23,328.04 L584.7,325.99 L584,324 L581.91,322.8 L579.88,321.51 L578,320 L576,320.57 L574,320.29 L572,320 L569.85,319.91 L568.12,321.47 L566,321.5 L564,322 L562,321.83 L560,321.53 L558,322.37 L556,322.3 L554,322 L552.03,322.53 L550.01,322.53 L548.01,322.67 L545.94,322.21 L544,323 L541.93,322.89 L539.92,323.19 L538.1,324.61 L536.1,324.93 L533.96,324.4 L532,325 L530.08,324.16 L527.99,324.37 L526.02,323.89 L523.89,324.31 L521.98,323.47 L520,323 L518.21,321.68 L516.16,321.01 L514.17,320.17 L512.23,319.23 L510,319 L507.83,318.08 L505.74,317.04 L503.77,315.79 L502.01,314.18 L500,313 L498.08,312.03 L496.2,310.96 L494.1,310.48 L492,310 L493.43,307.67 L494,305 L494.67,303.04 L495.36,301.09 L495.35,298.96 L496,297 L496.38,294.97 L497.5,293.12 L496.94,290.86 L498,289 L498.68,286.84 L500.28,285.14 L501.06,283.03 L502,281 L500.57,279.21 L500,277 L498.07,275.85 L495.75,275.5 L493.95,274.1 L492,273 L489.85,271.97 L488.76,269.69 L487.07,268.12 L485,267 L485.02,264.97 L485.09,262.93 L483.72,261.07 L484,259 L481.69,257.31 L480,255 L478.63,253.19 L478,251 L478.28,249 L479.01,247.06 L478.12,244.92 L479,243Z"/>
<path fill="#e57d70" d="M571.5,117.5 C571.5,115 574,114 576.5,114 C579.5,114 581.5,115.5 581.5,117.5 C581.5,119.5 579,120.5 576.5,120.5 C574,120.5 571.5,119.5 571.5,117.5Z"/>
<path fill="#eda291" d="M624,243 L630,242 L637,245 L638,249 L632,249 L626,247Z"/>
<path fill="#d42528" d="M635.2,129.2 L637.6,129.4 L637,131.2 L635.4,131Z"/>
<path fill="#eb9785" d="M765.3,268.1 L766.8,266.7 L768.62,265.75 L770.3,264.6 L772.25,262.86 L774.6,261.7 L775.8,260.03 L777.42,258.79 L778.9,257.4 L781.1,255.9 L783.61,255.02 L786,253.9 L788.37,253.18 L790.61,252.04 L793.1,251.7 L796.7,251.4 L795.3,254.6 L796,258.1 L798.9,260.3 L801.24,260.89 L803.71,260.86 L806,261.7 L805.44,263.82 L805.3,266 L803.31,267.99 L801.7,270.3 L800.76,272.2 L800.19,274.28 L798.9,276 L797.45,278.15 L796,280.3 L793.91,281.79 L791.7,283.1 L789.77,281.36 L787.4,280.3 L784.47,279.92 L781.7,278.9 L780.94,276.61 L779.6,274.6 L777.4,271.7 L775.25,271.25 L773.1,271.7 L771.55,273 L770.3,274.6 L768.31,272.91 L766,271.7Z"/>
<path fill="#eb9785" d="M818.9,248.1 L821.68,247.13 L824.6,246.7 L826.97,247.13 L829.33,246.69 L831.7,246.7 L832.82,248.63 L834.28,250.28 L836,251.7 L836.99,254.48 L837.4,257.4 L835.3,258.1 L833.78,256.72 L832.19,255.45 L830.3,254.6 L828.26,254.23 L826.45,253.26 L824.6,252.4 L822.49,251.82 L820.3,251.7Z"/>
<path fill="#eb9785" d="M722.4,301.1 L723.09,299.06 L724.65,297.46 L725.3,295.4 L728.1,293.1 L730,291.82 L732.1,290.9 L735.6,290.3 L737.9,292 L737.3,294.9 L735,297.1 L733.12,298.33 L731.6,300 L730.39,301.91 L728.7,303.4 L725.9,302.9 L723,301.7Z"/>
<path fill="#eb9785" d="M728.6,310.3 a1.8,1.8 0 1,0 3.6,0 a1.8,1.8 0 1,0 -3.6,0Z"/>
<path fill="#d8302e" d="M148.8,494.9 L152.2,493.1 L154.55,493.4 L156.9,493.7 L157.4,495.89 L158.6,497.8 L158.31,500.75 L157.5,503.6 L156.8,506.27 L155.7,508.8 L153.4,509.4 L152.81,507.05 L152.2,504.7 L150.9,502.47 L149.9,500.1Z"/>
<path fill="#d8302e" d="M143,540.7 L146.4,540.1 L149.9,538.4 L151.7,537.2 L152.2,539.5 L149.9,541.8 L149.3,544.2 L147.6,544.7 L145.9,543 L143,542.4Z"/>
<path fill="#d8302e" d="M173.1,524.6 a4.3,4.2 0 1,0 8.6,0 a4.3,4.2 0 1,0 -8.6,0Z"/>
<path fill="#d8302e" d="M189.4,514.2 L192,512.9 L194.66,512.23 L197.4,512.4 L200.03,511.47 L202.8,511.1 L204.36,509.51 L206.3,508.4 L209,505.7 L211.33,505.64 L213.5,504.8 L215.71,504.76 L217.9,504.4 L218.4,506.2 L216.23,506.99 L214.4,508.4 L212.76,509.75 L210.8,510.6 L209.66,512.96 L209,515.5 L208.89,517.82 L208.1,520 L207.18,521.79 L206.3,523.6 L204.03,525.05 L201.9,526.7 L200.18,528.15 L198.3,529.4 L196.5,528 L195.91,525.67 L194.7,523.6 L193.39,521.32 L192,519.1 L189.8,516.4Z"/>
<path fill="#d8302e" d="M229.5,528.9 L231.3,525.8 L234,523.6 L237.6,523.1 L239.79,523.42 L242,523.6 L245.2,525.4 L245.06,528.08 L245.6,530.7 L245.5,533.46 L244.7,536.1 L242.59,537.53 L241.1,539.6 L238.89,539.73 L236.7,540.1 L234.65,539.08 L232.7,537.9 L231.56,535.94 L230,534.3Z"/>
<path fill="#d8302e" d="M296.9,497.7 L300.3,496.6 L303.1,497.7 L303.61,499.97 L303.7,502.3 L303.06,504.53 L303.23,506.83 L303.1,509.1 L302.98,511.41 L302.6,513.7 L301.53,515.92 L300.9,518.3 L298.63,520.04 L296.3,521.7 L294.07,522.58 L291.7,522.9 L288.3,524.6 L285.92,525.24 L283.7,526.3 L280.3,527.4 L279.7,525.7 L281.54,524.48 L283.7,524 L286.15,522.79 L288.3,521.1 L289.26,518.99 L290.6,517.1 L291.48,515.25 L292.54,513.46 L292.9,511.4 L293.54,509.15 L294.18,506.9 L294.6,504.6Z"/>
<path fill="#d8302e" d="M302.8,491.2 L302.88,489.18 L303.3,487.2 L304.5,484.2 L305.98,482.54 L308,481.6 L310.13,480.22 L312.6,479.6 L314.8,477.6 L315.2,473.9 L317,473.1 L318.8,476.6 L318.71,479.3 L318,481.9 L316.91,483.6 L316,485.4 L314.44,486.65 L312.8,487.8 L310.9,488.69 L309,489.6 L305.6,491 L303.3,492.4Z"/>
<path fill="#555" d="M476,437 L480,436.5 L481,438.5 L478,439.5Z"/>
<path fill="#555" d="M567,464.5 L569.5,465 L569.5,467.5 L567,467Z"/>
<circle cx="533" cy="469" r="0.7" fill="#666"/>
<circle cx="587" cy="470.4" r="0.8" fill="#666"/>
<circle cx="518" cy="471" r="0.8" fill="#bbb" stroke="none"/>
</g>
<text class="leg" x="419.5" y="502.4" textLength="534.5" lengthAdjust="spacingAndGlyphs" id="lg">Tasa de incidencia acumulada en los últimos 14 días por 100.000 habitantes</text>
<rect x="577.6" y="510.7" width="47.7" height="9.6" fill="#fefbdb"/><text x="577.6" y="535.1" class="lab">212</text><rect x="632.1" y="510.7" width="47.7" height="9.6" fill="#f9dfc5"/><text x="632.1" y="535.1" class="lab">296</text><rect x="686.6" y="510.7" width="47.7" height="9.6" fill="#f3c2ad"/><text x="686.6" y="535.1" class="lab">381</text><rect x="741.1" y="510.7" width="47.7" height="9.6" fill="#eca293"/><text x="741.1" y="535.1" class="lab">466</text><rect x="795.6" y="510.7" width="47.7" height="9.6" fill="#e6837a"/><text x="795.6" y="535.1" class="lab">551</text><rect x="850.1" y="510.7" width="47.7" height="9.6" fill="#e0655d"/><text x="850.1" y="535.1" class="lab">635</text><rect x="904.6" y="510.7" width="47.7" height="9.6" fill="#db4541"/><text x="904.6" y="535.1" class="lab">720</text>
</svg>
<div class="zc"><span style="top:6px;font-size:24px;-webkit-text-stroke:0.45px #555;color:#555">+</span><span style="top:44px;font-size:24px;-webkit-text-stroke:0.45px #555;color:#555">-</span></div>
</body></html>
